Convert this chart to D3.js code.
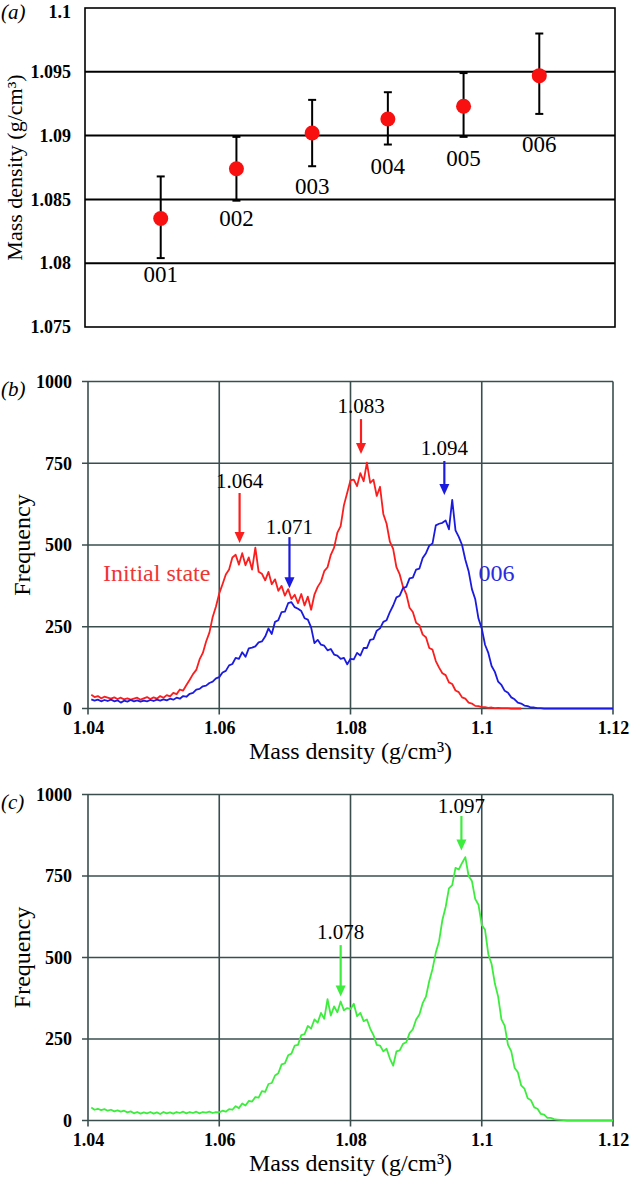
<!DOCTYPE html>
<html><head><meta charset="utf-8">
<script src="https://cdn.jsdelivr.net/npm/d3@7"></script>
<style>body{margin:0;background:#fff}svg{display:block}</style>
</head><body>
<script>
// ---------- Panel (a) data ----------
const samples = ["001","002","003","004","005","006"];
const sampleIndex = [1,2,3,4,5,6];
const meanDensity = [1.0835,1.0874,1.0902,1.0913,1.0923,1.0947];
const errUpper = [1.0868,1.0899,1.0928,1.0934,1.0949,1.0980];
const errLower = [1.0804,1.0849,1.0876,1.0893,1.0899,1.0917];
const labelDensity = [1.0791,1.0835,1.0860,1.0876,1.0882,1.0893];
const aTicks = [1.075,1.08,1.085,1.09,1.095,1.1];
const aTickLabels = ["1.075","1.08","1.085","1.09","1.095","1.1"];

// ---------- Histogram bins (bin centres, 0.0005 wide, from 1.0405) ----------
const binStart = 1.0405, binStep = 0.0005;
// Panel (b) Initial state (red)
const initialState = [42,35,38,31,36,33,30,34,29,33,28,31,27,30,33,27,31,35,29,34,30,38,33,41,37,48,44,58,55,72,
 88,105,118,150,170,205,232,280,312,352,380,410,425,462,470,440,475,438,462,425,
 492,418,412,392,418,380,395,360,375,345,365,335,348,322,350,315,342,302,348,372,
 388,420,432,470,492,538,558,622,660,698,700,680,720,695,752,690,700,650,678,595,
 565,510,488,432,410,372,350,308,295,262,255,226,218,185,180,145,125,108,102,80,
 75,55,50,34,30,18,15,8,7,4,4,2,3,1,2,1,1,1,0,0,0,0];
// Panel (b) sample 006 (blue)
const sample006 = [28,24,27,22,26,23,27,22,25,18,24,21,26,22,25,21,24,22,26,23,27,24,28,25,30,27,33,30,38,36,
 45,48,58,60,68,70,78,82,92,96,110,115,132,136,155,152,172,158,184,186,
 190,202,205,220,245,228,265,270,295,296,322,325,310,305,298,276,272,248,200,210,
 195,192,178,182,165,162,152,155,135,152,150,170,162,185,185,210,212,238,245,265,
 270,295,315,340,345,368,372,398,400,425,428,460,475,498,505,560,565,568,575,548,
 638,545,525,500,455,420,365,335,275,245,195,170,130,112,82,72,54,48,34,28,
 18,15,9,7,3,3,1,1,0,0,0,0,0,0,0,0,0,0,0,0,0,0,0,0,0,0,0,0,0,0];
// Panel (c) (green)
const panelC = [40,33,36,32,35,30,33,28,31,27,30,25,28,22,26,21,25,22,26,21,25,20,26,22,25,21,26,23,27,22,
 26,23,27,22,26,24,27,23,26,25,30,27,35,33,44,38,52,46,60,58,
 72,70,90,88,112,115,138,145,172,175,200,205,230,232,262,265,290,282,310,300,
 330,312,372,322,350,332,365,338,345,342,358,320,330,305,310,282,262,232,230,212,
 220,190,168,212,215,235,240,268,280,310,325,360,380,428,465,515,550,615,655,712,
 722,775,770,790,808,750,735,680,662,600,585,510,480,420,380,310,290,232,212,162,
 148,108,98,68,62,40,36,20,18,8,8,4,3,2,1,0,0,0,0,0,0,0,0,0,0,0,0,0,0,0];
const xTicks = [1.04,1.06,1.08,1.1,1.12];
const xTickLabels = ["1.04","1.06","1.08","1.1","1.12"];
const fTicks = [0,250,500,750,1000];

// annotations: [label, x, textValue, arrowTop, arrowBottom, colour]
const annB = [
  ["1.064",1.0631,697,659,506,"red"],
  ["1.071",1.0707,555,524,368,"blue"],
  ["1.083",1.0816,925,885,778,"red"],
  ["1.094",1.0943,797,757,653,"blue"]
];
const annC = [
  ["1.078",1.0785,579,538,380,"green"],
  ["1.097",1.0969,964,934,828,"green"]
];

const COL = {red:"#fb1e1e", blue:"#1b1be0", green:"#3ded3d", grid:"#3a4e4e"};
const FONT = "Liberation Serif";

const W=630,H=1177;
const svg = d3.select("body").append("svg").attr("width",W).attr("height",H);

// ================= Panel (a) =================
{
  const x = d3.scaleLinear().domain([0,7]).range([85,615]);
  const y = d3.scaleLinear().domain([1.075,1.1]).range([327,8]);
  const g = svg.append("g");
  g.selectAll("line.grid").data(aTicks.slice(1,-1)).join("line")
    .attr("x1",x(0)).attr("x2",x(7)).attr("y1",d=>y(d)).attr("y2",d=>y(d))
    .attr("stroke","#000").attr("stroke-width",2);
  g.append("rect").attr("x",x(0)).attr("y",y(1.1)).attr("width",x(7)-x(0)).attr("height",y(1.075)-y(1.1))
    .attr("fill","none").attr("stroke","#000").attr("stroke-width",1.6);
  const yAxis = d3.axisLeft(y).tickValues(aTicks).tickSize(0).tickPadding(14)
    .tickFormat((d,i)=>aTickLabels[i]);
  const ya = g.append("g").attr("transform",`translate(${x(0)},0)`).call(yAxis);
  ya.select(".domain").remove();
  ya.selectAll("text").attr("font-size",18).attr("font-weight","bold").attr("fill","#000");
  ya.selectAll("text").filter(d=>d===1.1).attr("dy","0.55em");
  const eb = g.selectAll("g.eb").data(sampleIndex).join("g");
  eb.append("line").attr("x1",d=>x(d)).attr("x2",d=>x(d))
    .attr("y1",(d,i)=>y(errUpper[i])).attr("y2",(d,i)=>y(errLower[i])).attr("stroke","#000").attr("stroke-width",2);
  eb.append("line").attr("x1",d=>x(d)-4).attr("x2",d=>x(d)+4)
    .attr("y1",(d,i)=>y(errUpper[i])).attr("y2",(d,i)=>y(errUpper[i])).attr("stroke","#000").attr("stroke-width",2);
  eb.append("line").attr("x1",d=>x(d)-4).attr("x2",d=>x(d)+4)
    .attr("y1",(d,i)=>y(errLower[i])).attr("y2",(d,i)=>y(errLower[i])).attr("stroke","#000").attr("stroke-width",2);
  g.selectAll("circle.pt").data(sampleIndex).join("circle")
    .attr("cx",d=>x(d)).attr("cy",(d,i)=>y(meanDensity[i])).attr("r",7.5).attr("fill","#f80f0f");
  g.selectAll("text.lab").data(samples).join("text")
    .attr("x",(d,i)=>x(sampleIndex[i])).attr("y",(d,i)=>y(labelDensity[i]))
    .attr("text-anchor","middle").attr("dominant-baseline","central")
    .attr("font-size",23).text(d=>d);
  g.append("text").attr("transform",`translate(22,${(y(1.1)+y(1.075))/2+0}) rotate(-90)`)
    .attr("text-anchor","middle").attr("font-size",22).text("Mass density (g/cm³)");
  g.append("text").attr("x",1).attr("y",12).attr("dominant-baseline","central")
    .attr("font-size",21).attr("font-style","italic").text("(a)");
}

// ================= Histogram panels =================
function histPanel(top, bottom, series, anns, tag){
  const x = d3.scaleLinear().domain([1.04,1.12]).range([88,613]);
  const y = d3.scaleLinear().domain([0,1000]).range([bottom,top]);
  const g = svg.append("g");
  g.selectAll("line.hg").data(fTicks).join("line")
    .attr("x1",x(1.04)-6).attr("x2",x(1.12)).attr("y1",d=>y(d)).attr("y2",d=>y(d))
    .attr("stroke",COL.grid).attr("stroke-width",1.6);
  g.selectAll("line.vg").data(xTicks).join("line")
    .attr("x1",d=>x(d)).attr("x2",d=>x(d)).attr("y1",y(1000)).attr("y2",y(0)+6)
    .attr("stroke",COL.grid).attr("stroke-width",1.6);
  const ya = g.append("g").attr("transform",`translate(${x(1.04)},0)`)
    .call(d3.axisLeft(y).tickValues(fTicks).tickSize(0).tickPadding(16).tickFormat(d3.format("d")));
  ya.select(".domain").remove();
  ya.selectAll("text").attr("font-size",18).attr("font-weight","bold").attr("fill","#000");
  const xa = g.append("g").attr("transform",`translate(0,${y(0)})`)
    .call(d3.axisBottom(x).tickValues(xTicks).tickSize(0).tickPadding(13).tickFormat((d,i)=>xTickLabels[i]));
  xa.select(".domain").remove();
  xa.selectAll("text").attr("font-size",18).attr("font-weight","bold").attr("fill","#000");
  const line = d3.line().x((d,i)=>x(binStart+i*binStep)).y(d=>y(d));
  series.forEach(s=>{
    g.append("path").datum(s.values).attr("d",line).attr("fill","none")
      .attr("stroke",s.color).attr("stroke-width",1.8).attr("stroke-linejoin","round");
  });
  anns.forEach(a=>{
    const [lab,xv,tv,t0,t1,c] = a;
    const col = COL[c];
    g.append("text").attr("x",x(xv)).attr("y",y(tv)).attr("text-anchor","middle")
      .attr("dominant-baseline","central").attr("font-size",21).text(lab);
    g.append("line").attr("x1",x(xv)).attr("x2",x(xv)).attr("y1",y(t0)).attr("y2",y(t1)-8)
      .attr("stroke",col).attr("stroke-width",2.2);
    const bx=x(xv), by=y(t1);
    g.append("path").attr("d",`M${bx-5},${by-11}L${bx+5},${by-11}L${bx},${by}Z`).attr("fill",col);
  });
  g.append("text").attr("transform",`translate(30,${(top+bottom)/2}) rotate(-90)`)
    .attr("text-anchor","middle").attr("font-size",24).text("Frequency");
  g.append("text").attr("x",(x(1.04)+x(1.12))/2).attr("y",bottom+42).attr("text-anchor","middle")
    .attr("dominant-baseline","central").attr("font-size",24).text("Mass density (g/cm³)");
  g.append("text").attr("x",1).attr("y",top+7).attr("dominant-baseline","central")
    .attr("font-size",21).attr("font-style","italic").text(tag);
  return {g,x,y};
}

const pb = histPanel(381.5, 708.5,
  [{values:initialState,color:COL.red},{values:sample006,color:COL.blue}], annB, "(b)");
pb.g.append("text").attr("x",pb.x(1.0423)).attr("y",pb.y(414)).attr("dominant-baseline","central")
  .attr("font-size",24).attr("fill","#f03535").text("Initial state");
pb.g.append("text").attr("x",pb.x(1.0995)).attr("y",pb.y(414)).attr("dominant-baseline","central")
  .attr("font-size",24).attr("fill","#2a2ae0").text("006");

histPanel(794.5, 1120.5, [{values:panelC,color:COL.green}], annC, "(c)");

// serif face for every text (axis groups default to sans-serif)
svg.selectAll("g").attr("font-family",FONT);
svg.selectAll("text").attr("font-family",FONT).style("font-family",`"${FONT}"`);
</script>
</body></html>
